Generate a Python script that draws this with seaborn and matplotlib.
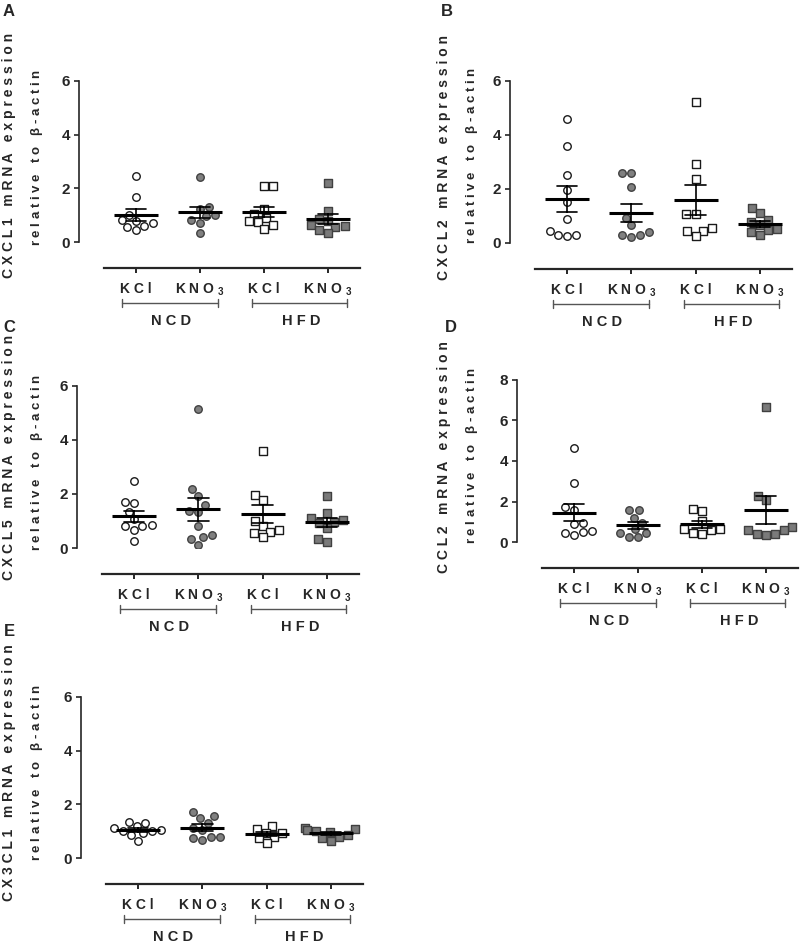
import matplotlib
matplotlib.use('Agg')
import matplotlib.pyplot as plt
import matplotlib.transforms as mtransforms
import pandas as pd
import seaborn as sns

# ---- Data -----------------------------------------------------------------
groups = ['NCD KCl', 'NCD KNO3', 'HFD KCl', 'HFD KNO3']
tick_labels = ['K C l', r'K N O $_{\mathrm{3}}$', 'K C l', r'K N O $_{\mathrm{3}}$']
diet_labels = ['N C D', 'H F D']

cxcl1_ncd_kcl = [2.46, 1.66, 1.02, 0.82, 0.80, 0.70, 0.58, 0.56, 0.43]
cxcl1_ncd_kno3 = [2.43, 1.30, 1.24, 1.00, 0.96, 0.81, 0.71, 0.35]
cxcl1_hfd_kcl = [2.10, 2.10, 1.24, 1.05, 0.90, 0.78, 0.75, 0.62, 0.50]
cxcl1_hfd_kno3 = [2.20, 1.16, 0.87, 0.80, 0.62, 0.58, 0.56, 0.45, 0.35]

cxcl2_ncd_kcl = [4.58, 3.60, 2.50, 1.95, 1.51, 0.89, 0.46, 0.31, 0.30, 0.27]
cxcl2_ncd_kno3 = [2.60, 2.59, 2.06, 0.92, 0.65, 0.39, 0.31, 0.30, 0.21]
cxcl2_hfd_kcl = [5.23, 2.92, 2.36, 1.08, 1.07, 0.54, 0.46, 0.43, 0.27]
cxcl2_hfd_kno3 = [1.29, 1.10, 0.86, 0.76, 0.68, 0.52, 0.49, 0.41, 0.31]

cxcl5_ncd_kcl = [2.49, 1.71, 1.66, 1.34, 1.07, 0.86, 0.83, 0.80, 0.68, 0.25]
cxcl5_ncd_kno3 = [5.15, 2.18, 1.93, 1.58, 1.37, 1.34, 0.80, 0.49, 0.41, 0.34, 0.12]
cxcl5_hfd_kcl = [3.61, 1.97, 1.79, 0.99, 0.80, 0.68, 0.59, 0.55, 0.39]
cxcl5_hfd_kno3 = [1.93, 1.29, 1.11, 1.05, 0.97, 0.92, 0.74, 0.34, 0.22]

ccl2_ncd_kcl = [4.65, 2.90, 1.72, 1.60, 0.94, 0.87, 0.53, 0.50, 0.46, 0.33]
ccl2_ncd_kno3 = [1.57, 1.57, 1.20, 0.94, 0.66, 0.46, 0.46, 0.25, 0.25]
ccl2_hfd_kcl = [1.65, 1.53, 1.02, 0.66, 0.66, 0.58, 0.46, 0.41]
ccl2_hfd_kno3 = [6.68, 2.28, 2.06, 0.74, 0.61, 0.58, 0.41, 0.41, 0.36]

cx3cl1_ncd_kcl = [1.36, 1.32, 1.18, 1.11, 1.05, 0.99, 0.99, 0.93, 0.87, 0.64]
cx3cl1_ncd_kno3 = [1.73, 1.58, 1.49, 1.32, 1.11, 1.05, 0.80, 0.80, 0.74, 0.68]
cx3cl1_hfd_kcl = [1.21, 1.08, 0.95, 0.93, 0.77, 0.74, 0.56]
cx3cl1_hfd_kno3 = [1.10, 1.08, 1.05, 0.99, 0.97, 0.87, 0.80, 0.74, 0.64]

genes = ['CXCL1', 'CXCL2', 'CXCL5', 'CCL2', 'CX3CL1']
panel_letters = ['A', 'B', 'C', 'D', 'E']
panel_data = [
    [cxcl1_ncd_kcl, cxcl1_ncd_kno3, cxcl1_hfd_kcl, cxcl1_hfd_kno3],
    [cxcl2_ncd_kcl, cxcl2_ncd_kno3, cxcl2_hfd_kcl, cxcl2_hfd_kno3],
    [cxcl5_ncd_kcl, cxcl5_ncd_kno3, cxcl5_hfd_kcl, cxcl5_hfd_kno3],
    [ccl2_ncd_kcl, ccl2_ncd_kno3, ccl2_hfd_kcl, ccl2_hfd_kno3],
    [cx3cl1_ncd_kcl, cx3cl1_ncd_kno3, cx3cl1_hfd_kcl, cx3cl1_hfd_kno3],
]
y_max = [6, 6, 6, 8, 6]

# ---- Layout (pixels in the 802x952 canvas) --------------------------------
W, H = 802, 952
# left, right, top (y max), bottom (y = 0)
axes_px = [(104, 360, 81, 242), (535, 792, 81, 243), (102, 359, 386, 548),
           (542, 798, 380, 542), (106, 363, 697, 858)]
letter_px = [(9, 12), (447, 12), (9, 328), (451, 328), (9, 631)]
ylab1_px = [(9, 155), (444, 157), (9, 457), (444, 457), (9, 773)]
ylab2_px = [(37, 157), (472, 155), (37, 462), (472, 455), (37, 772)]

styles = [
    dict(marker='o', facecolor='white', edgecolor='#1a1a1a'),
    dict(marker='o', facecolor='#808080', edgecolor='#404040'),
    dict(marker='s', facecolor='white', edgecolor='#1a1a1a'),
    dict(marker='s', facecolor='#7a7a7a', edgecolor='#404040'),
]

sns.set_style('ticks')
plt.rcParams['font.family'] = ['Liberation Sans', 'DejaVu Sans']
plt.rcParams['font.weight'] = 'bold'
plt.rcParams['mathtext.fontset'] = 'custom'
plt.rcParams['mathtext.rm'] = 'Liberation Sans'
plt.rcParams['mathtext.bf'] = 'Liberation Sans:bold'

fig = plt.figure(figsize=(W / 100, H / 100), dpi=100)


def px(x, y):
    return x / W, 1 - y / H


for i, gene in enumerate(genes):
    l, r, t, b = axes_px[i]
    ax = fig.add_axes([l / W, 1 - b / H, (r - l) / W, (b - t) / H])

    values = panel_data[i]
    df = pd.DataFrame({
        'group': [g for g, v in zip(groups, values) for _ in v],
        'value': [x for v in values for x in v],
    })

    # individual animals
    for g, st in zip(groups, styles):
        sns.swarmplot(data=df[df['group'] == g], x='group', y='value', order=groups,
                      marker=st['marker'], color=st['facecolor'], edgecolor=st['edgecolor'],
                      linewidth=1.0, size=5.4, ax=ax, zorder=2)

    # mean +/- SEM
    sns.pointplot(data=df, x='group', y='value', order=groups, errorbar='se',
                  color='black', marker='_', markersize=31, markeredgewidth=2.2,
                  linestyle='none', capsize=0.32, err_kws={'linewidth': 1.2}, ax=ax)
    for ln in ax.lines:
        ln.set_zorder(3)

    ax.set_xlim(-0.5, 3.5)
    ax.set_ylim(0, y_max[i])
    ax.set_yticks(range(0, y_max[i] + 1, 2))
    ax.set_xlabel('')
    ax.set_ylabel('')
    ax.set_xticks(range(4))
    ax.set_xticklabels(tick_labels, fontsize=10.5, fontweight='bold')
    ax.tick_params(axis='x', length=3.5, width=1.4, pad=6.5)
    ax.tick_params(axis='y', length=3.5, width=1.2, pad=3, labelsize=11)
    for lab in ax.get_yticklabels():
        lab.set_fontweight('bold')

    sns.despine(ax=ax)
    ax.spines['left'].set_position(('outward', 18))
    ax.spines['bottom'].set_position(('outward', 18.7))
    ax.spines['left'].set_bounds(0, y_max[i])
    ax.spines['left'].set_linewidth(1.2)
    ax.spines['bottom'].set_linewidth(1.6)

    # diet brackets under the tick labels
    trans = mtransforms.blended_transform_factory(ax.transData, ax.transAxes)
    h = b - t
    yb = -61 / h
    dy = 4 / h
    for (x0, x1), txt in zip([(-0.22, 1.28), (1.82, 3.30)], diet_labels):
        ax.plot([x0, x1], [yb, yb], color='#555555', lw=1.0, transform=trans, clip_on=False)
        ax.plot([x0, x0], [yb - dy, yb + dy], color='#555555', lw=1.0, transform=trans, clip_on=False)
        ax.plot([x1, x1], [yb - dy, yb + dy], color='#555555', lw=1.0, transform=trans, clip_on=False)
        ax.text((x0 + x1) / 2 + 0.02, -79 / h, txt, transform=trans, ha='center', va='center',
                fontsize=10.5, fontweight='bold')

    # panel letter and two-line y label
    fig.text(*px(*letter_px[i]), panel_letters[i], ha='center', va='center',
             fontsize=12, fontweight='bold')
    fig.text(*px(*ylab1_px[i]), ' '.join(gene) + '   m R N A   e x p r e s s i o n',
             rotation=90, ha='center', va='center', fontsize=10, fontweight='bold')
    fig.text(*px(*ylab2_px[i]), r'r e l a t i v e   t o   $\mathrm{\beta}$ - a c t i n',
             rotation=90, ha='center', va='center', fontsize=9.5, fontweight='bold')

fig.savefig('out.png', dpi=100)
